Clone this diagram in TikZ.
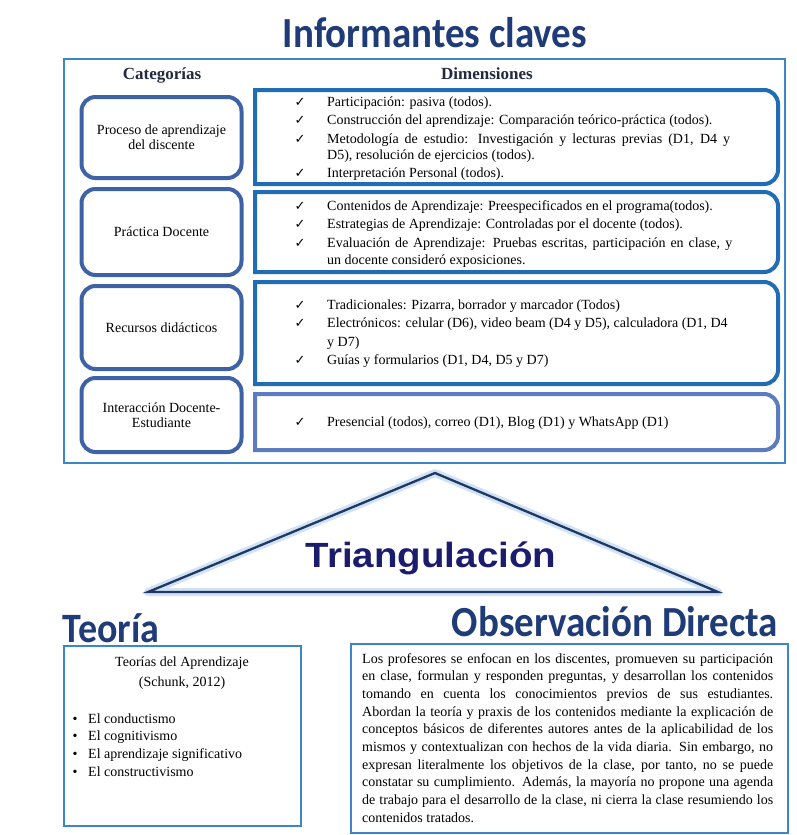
\documentclass[tikz,border=0pt]{standalone}
\usepackage{fontspec}
\setmainfont{Liberation Serif}
\newfontfamily\calfont{Carlito}
\newfontfamily\arialfont{Liberation Sans}
\newfontfamily\symfont{DejaVu Sans}
\definecolor{titleblue}{HTML}{1F3C78}
\definecolor{frameblue}{HTML}{3A87C8}
\definecolor{catblue}{HTML}{3D62A6}
\definecolor{dimblue}{HTML}{1E6DB5}
\definecolor{dimlight}{HTML}{5B7CBF}
\definecolor{tribase}{HTML}{1F3864}
\definecolor{triglow}{HTML}{BDD7EE}
\definecolor{trinavy}{HTML}{1C1C6E}
\definecolor{headcol}{HTML}{23293F}
\tikzset{
  body/.style={font=\fontsize{14}{16.7}\selectfont, inner sep=0pt},
  dline/.style={body, anchor=base west},
  chk/.style={font=\symfont\fontsize{13}{14}\selectfont, inner sep=0pt, anchor=base},
  head/.style={font=\bfseries\fontsize{17}{18}\selectfont, text=headcol, inner sep=0pt, anchor=base},
  bigtitle/.style={font=\calfont\bfseries\fontsize{39}{40}\selectfont, text=titleblue, inner sep=0pt, yscale=1.1},
  catbox/.style={draw=catblue, line width=4pt, rounded corners=14pt, align=center,
     font=\fontsize{14}{15}\selectfont, inner sep=0pt, minimum width=160},
  dimframe/.style={draw=dimblue, line width=4pt, line join=miter},
  txtbox/.style={draw=frameblue, line width=2pt, inner sep=0pt, anchor=north west},
}
\newcommand\rbox[3]{\draw[#1] (255,#2) -- (764,#2) arc[start angle=-90,end angle=0,radius=14] -- (778,#3-14) arc[start angle=0,end angle=90,radius=14] -- (255,#3) -- cycle;}
\begin{document}
\begin{tikzpicture}[x=1pt,y=-1pt]
\useasboundingbox (0,0) rectangle (796,835);
\fill[white] (0,0) rectangle (796,835);

% title
\node[bigtitle] (title) at (435,33) {Informantes claves};

% outer frame
\node[txtbox, minimum width=721, minimum height=404] (frame) at (63,58) {};
\node[head] (hcat) at (162,79) {Categorías};
\node[head] (hdim) at (487,79) {Dimensiones};

% category boxes
\node[catbox, minimum height=81] (c1) at (161.5,137.5) {Proceso de aprendizaje\\del discente};
\node[catbox, minimum height=86] (c2) at (161.5,232) {Práctica Docente};
\node[catbox, minimum height=83] (c3) at (161.5,327.5) {Recursos didácticos};
\node[catbox, minimum height=74] (c4) at (161.5,415) {Interacción Docente-\\Estudiante};

% dimension boxes
\rbox{dimframe}{90}{184}
\rbox{dimframe}{192}{272}
\rbox{dimframe}{282}{384}
\rbox{dimframe, draw=dimlight}{394}{450}

% box 1
\node[chk] (k11) at (300,106) {✓};
\node[dline] (d11) at (327,106) {Participación: pasiva (todos).};
\node[chk] (k12) at (300,124) {✓};
\node[dline] (d12) at (327,124) {Construcción del aprendizaje: Comparación teórico-práctica (todos).};
\node[chk] (k13) at (300,143) {✓};
\node[dline] (d13) at (327,143) {\makebox[403pt][s]{Metodología de estudio: Investigación y lecturas previas (D1, D4 y}};
\node[dline] (d13b) at (327,159.5) {D5), resolución de ejercicios (todos).};
\node[chk] (k14) at (300,177) {✓};
\node[dline] (d14) at (327,177) {Interpretación Personal (todos).};

% box 2
\node[chk] (k21) at (300,210.5) {✓};
\node[dline] (d21) at (327,210.5) {Contenidos de Aprendizaje: Preespecificados en el programa(todos).};
\node[chk] (k22) at (300,228.5) {✓};
\node[dline] (d22) at (327,228.5) {Estrategias de Aprendizaje: Controladas por el docente (todos).};
\node[chk] (k23) at (300,247.5) {✓};
\node[dline] (d23) at (327,247.5) {\makebox[405pt][s]{Evaluación de Aprendizaje: Pruebas escritas, participación en clase, y}};
\node[dline] (d23b) at (327,264.5) {un docente consideró exposiciones.};

% box 3
\node[chk] (k31) at (300,309.5) {✓};
\node[dline] (d31) at (327,309.5) {Tradicionales: Pizarra, borrador y marcador (Todos)};
\node[chk] (k32) at (300,327.5) {✓};
\node[dline] (d32) at (327,327.5) {Electrónicos: celular (D6), video beam (D4 y D5), calculadora (D1, D4};
\node[dline] (d32b) at (327,346) {y D7)};
\node[chk] (k33) at (300,364.5) {✓};
\node[dline] (d33) at (327,364.5) {Guías y formularios (D1, D4, D5 y D7)};

% box 4
\node[chk] (k41) at (300,426) {✓};
\node[dline] (d41) at (327,426) {Presencial (todos), correo (D1), Blog (D1) y WhatsApp (D1)};

% triangle
\coordinate (apex) at (435,473);
\coordinate (bl) at (148,592);
\coordinate (br) at (718,592);
\draw[triglow, line width=8pt, line join=round, opacity=0.7] (apex) -- (bl) -- (br) -- cycle;
\draw[tribase, line width=2.3pt, line join=miter] (apex) -- (bl) -- (br) -- cycle;
\node[font=\arialfont\bfseries\fontsize{35}{36}\selectfont, text=trinavy, inner sep=0pt, xscale=1.1, anchor=base] (tri) at (431,567) {Triangulación};

% bottom titles
\node[bigtitle, font=\calfont\bfseries\fontsize{38}{40}\selectfont] (teo) at (111,628) {Teoría};
\node[bigtitle] (obs) at (615,622) {Observación Directa};

% Teoria box
\node[txtbox, minimum width=237, minimum height=180] (teobox) at (63,645) {};
\node[body, anchor=base] (tt1) at (182,666.5) {Teorías del Aprendizaje};
\node[body, anchor=base] (tt2) at (182,686.5) {(Schunk, 2012)};
\node[body, anchor=base] (b1) at (75,723) {\textbullet};
\node[dline] (t1) at (88,723) {El conductismo};
\node[body, anchor=base] (b2) at (75,740.5) {\textbullet};
\node[dline] (t2) at (88,740.5) {El cognitivismo};
\node[body, anchor=base] (b3) at (75,758) {\textbullet};
\node[dline] (t3) at (88,758) {El aprendizaje significativo};
\node[body, anchor=base] (b4) at (75,776) {\textbullet};
\node[dline] (t4) at (88,776) {El constructivismo};

% Observacion box
\node[txtbox, minimum width=437, minimum height=189] (obsbox) at (350,643) {};
\node[body, font=\fontsize{14}{17.7}\selectfont, anchor=north west, align=left] (obstext) at (362,653) {%
\makebox[411pt][s]{Los profesores se enfocan en los discentes, promueven su participación}\\
\makebox[411pt][s]{en clase, formulan y responden preguntas, y desarrollan los contenidos}\\
\makebox[411pt][s]{tomando en cuenta los conocimientos previos de sus estudiantes.}\\
\makebox[411pt][s]{Abordan la teoría y praxis de los contenidos mediante la explicación de}\\
\makebox[411pt][s]{conceptos básicos de diferentes autores antes de la aplicabilidad de los}\\
\makebox[411pt][s]{mismos y contextualizan con hechos de la vida diaria. Sin embargo, no}\\
\makebox[411pt][s]{expresan literalmente los objetivos de la clase, por tanto, no se puede}\\
\makebox[411pt][s]{constatar su cumplimiento. Además, la mayoría no propone una agenda}\\
\makebox[411pt][s]{de trabajo para el desarrollo de la clase, ni cierra la clase resumiendo los}\\
contenidos tratados.};
\end{tikzpicture}
\end{document}
